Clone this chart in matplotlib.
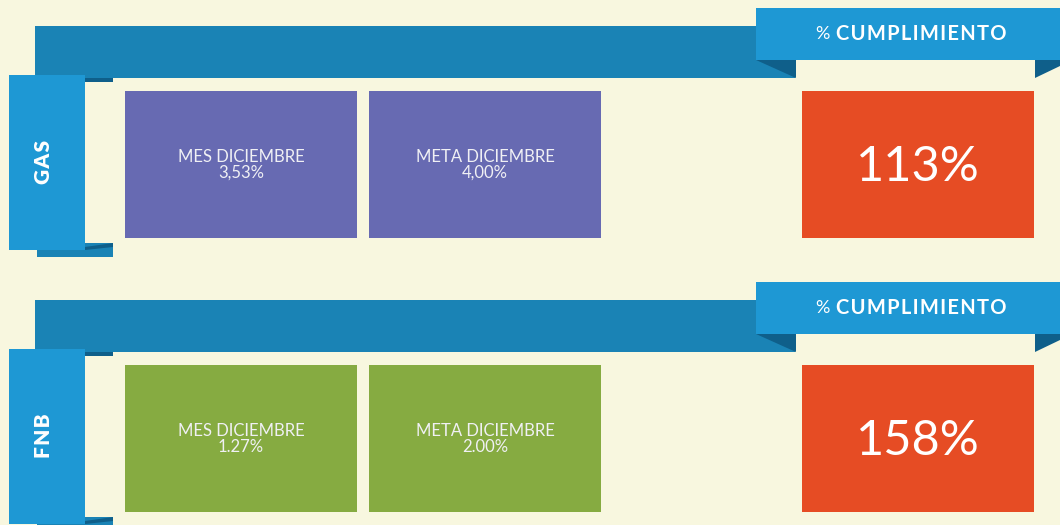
import matplotlib.pyplot as plt
from matplotlib.patches import Rectangle, Polygon

# data
categorias = ['GAS', 'FNB']
mes_valor = ['3,53%', '1.27%']
meta_valor = ['4,00%', '2.00%']
cumplimiento = [113, 158]
colores_caja = ['#676ab2', '#86ab41']

fondo = '#f8f7df'
azul_osc = '#1a83b5'
azul_cla = '#1e98d4'
pliegue = '#0f5f8a'
rojo = '#e64c24'
texto_caja = '#f0f0f4'

plt.rcParams['font.family'] = ['Lato', 'DejaVu Sans']

fig = plt.figure(figsize=(10.6, 5.25), dpi=100, facecolor=fondo)
ax = fig.add_axes([0, 0, 1, 1])
ax.set_xlim(0, 1060)
ax.set_ylim(525, 0)
ax.axis('off')
ax.set_facecolor(fondo)

paso = 274
for i, cat in enumerate(categorias):
    dy = i * paso

    # ribbon oscuro superior
    ax.add_patch(Rectangle((35, 26 + dy), 760, 52, color=azul_osc, lw=0))
    # cinta "% cumplimiento"
    ax.add_patch(Polygon([(756, 60 + dy), (796, 60 + dy), (796, 78 + dy)],
                         closed=True, color=pliegue, lw=0))
    ax.add_patch(Polygon([(1035, 60 + dy), (1060, 60 + dy), (1060, 66 + dy), (1035, 78 + dy)],
                         closed=True, color=pliegue, lw=0))
    ax.add_patch(Rectangle((756, 8 + dy), 304, 52, color=azul_cla, lw=0))
    ax.text(815, 34 + dy, '%', color='white', fontsize=13, ha='left', va='center')
    ax.text(836, 34 + dy, 'C U M P L I M I E N T O'.replace(' ', '\u200a'), color='white',
            fontsize=14.5, fontweight='bold', ha='left', va='center')

    # etiqueta lateral
    ax.add_patch(Rectangle((37, 243 + dy), 76, 14, color=azul_osc, lw=0))
    ax.add_patch(Polygon([(85, 78 + dy), (113, 78 + dy), (113, 82 + dy), (85, 82 + dy)],
                         closed=True, color=pliegue, lw=0))
    ax.add_patch(Polygon([(85, 247 + dy), (113, 243 + dy), (113, 247 + dy), (85, 250 + dy)],
                         closed=True, color=pliegue, lw=0))
    ax.add_patch(Rectangle((9, 75 + dy), 76, 175, color=azul_cla, lw=0))
    ax.text(44, 162 + dy, '\u200a'.join(cat), color='white', fontsize=15, fontweight='heavy',
            rotation=90, ha='center', va='center')

    # cajas
    ax.add_patch(Rectangle((125, 91 + dy), 232, 147, color=colores_caja[i], lw=0))
    ax.add_patch(Rectangle((369, 91 + dy), 232, 147, color=colores_caja[i], lw=0))
    ax.text(241, 165 + dy, 'MES DICIEMBRE\n' + mes_valor[i], color=texto_caja,
            fontsize=12, ha='center', va='center', linespacing=0.95)
    ax.text(485, 165 + dy, 'META DICIEMBRE\n' + meta_valor[i], color=texto_caja,
            fontsize=12, ha='center', va='center', linespacing=0.95)

    ax.add_patch(Rectangle((802, 91 + dy), 232, 147, color=rojo, lw=0))
    ax.text(918, 167 + dy, f'{cumplimiento[i]}%', color='white', fontsize=35,
            ha='center', va='center')

fig.savefig('out.png', dpi=100, facecolor=fondo)
